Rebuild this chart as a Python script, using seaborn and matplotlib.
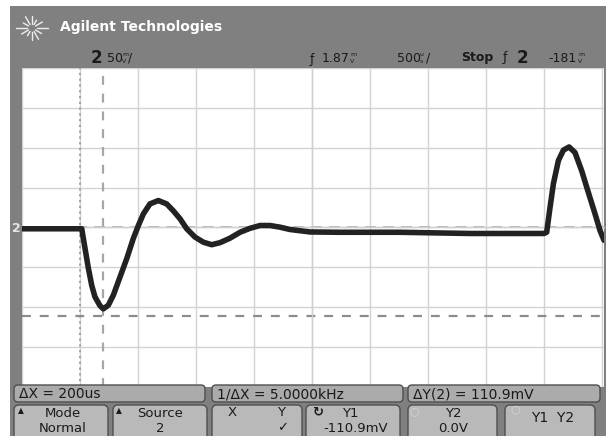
import matplotlib
matplotlib.use("Agg")
import math
import matplotlib.pyplot as plt
import seaborn as sns
import pandas as pd
from matplotlib.patches import Rectangle, FancyBboxPatch
from matplotlib.lines import Line2D
from matplotlib.transforms import Affine2D
from matplotlib.ticker import MultipleLocator

# ---------------- data ----------------
time_us = [0, 241, 515, 543, 572, 601, 629, 672, 701, 744, 787, 845, 903,
           959, 1003, 1046, 1103, 1175, 1247, 1304, 1362, 1420, 1491, 1563,
           1635, 1707, 1793, 1879, 1966, 2052, 2138, 2224, 2310, 2483, 2741,
           3259, 3862, 4500, 4523, 4552, 4581, 4624, 4667, 4716, 4767, 4825,
           4882, 4940, 4983, 5017]
volts_mv = [-1.6, -1.6, -1.6, -26, -51, -72.5, -87, -98, -102, -97.5, -85, -62, -39,
            -14, 2.5, 17, 29.6, 33.8, 29.6, 21, 11, -1.6, -12, -18.4,
            -21.6, -19, -13.4, -6, -1, 2.5, 2.5, 0.4, -2.5, -5.6, -6,
            -6, -7.5, -7.5, -5.9, 25.4, 55, 84, 97, 101, 94, 71,
            44, 17, -4, -16]

cursor_x_us = [500, 700]          # X1, X2 (delta 200us)
cursor_y_mv = [-110.9, 0.0]       # Y1, Y2
grid_t = list(range(0, 5001, 500))
grid_v = list(range(-200, 201, 50))

status_texts = ["\u0394X = 200us", "1/\u0394X = 5.0000kHz", "\u0394Y(2) = 110.9mV"]

# ---------------- figure ----------------
W, H = 606, 436
sns.set_theme(style="white")
plt.rcParams["font.family"] = ["DejaVu Sans"]
fig = plt.figure(figsize=(W / 100, H / 100), dpi=100)
fig.patch.set_facecolor("white")
T = Affine2D().scale(1, -1).translate(0, H).scale(1 / W, 1 / H) + fig.transFigure

BG = "#808080"
fig.patches.append(Rectangle((10, 6), W - 10, H - 6, transform=T,
                             facecolor=BG, edgecolor="none", zorder=0))

# ---------------- graticule / trace ----------------
ax = fig.add_axes([22 / W, 1 - 387 / H, (604 - 22) / W, (387 - 68) / H])
ax.set_zorder(1)
ax.set_facecolor("white")
ax.set_xlim(0, 5017)
ax.set_ylim(-200, 200 - 400 / 320)
ax.set_xticks(grid_t)
ax.set_yticks(grid_v)
ax.grid(True, color="#d2d2d2", lw=1.0)
ax.set_axisbelow(True)
for s in ["top", "right"]:
    ax.spines[s].set_visible(False)
ax.spines["left"].set_position(("data", 2500))
ax.spines["bottom"].set_position(("data", 0))
for s in ["left", "bottom"]:
    ax.spines[s].set_color("#cfcfcf")
    ax.spines[s].set_linewidth(1.0)
ax.xaxis.set_minor_locator(MultipleLocator(100))
ax.yaxis.set_minor_locator(MultipleLocator(10))
ax.tick_params(which="major", length=0, labelbottom=False, labelleft=False)
ax.tick_params(which="minor", length=5, direction="inout", color="#c4c4c4", width=1)

ax.axvline(cursor_x_us[0], color="#9c9c9c", lw=1.3, ls=(0, (1.2, 2.0)), zorder=2)
ax.axvline(cursor_x_us[1], color="#a6a6a6", lw=1.6, ls=(0, (4, 4)), zorder=2)
ax.axhline(cursor_y_mv[0], color="#8c8c8c", lw=1.6, ls=(0, (4, 4)), zorder=2)
ax.axhline(cursor_y_mv[1], color="#b2b2b2", lw=1.3, ls=(0, (6, 4)), zorder=2)

df = pd.DataFrame({"t": time_us, "v": volts_mv})
sns.lineplot(data=df, x="t", y="v", ax=ax, color="#222222", lw=4.0,
             sort=False, estimator=None, zorder=5)
ax.lines[-1].set_solid_joinstyle("round")
ax.lines[-1].set_solid_capstyle("round")
ax.set_xlabel("")
ax.set_ylabel("")

# ---------------- header ----------------
cx, cy = 32, 28
for ang, r0, r1 in [(0, 5, 16), (30, 4, 11), (60, 4, 13), (90, 4, 12),
                    (120, 4, 9), (150, 4, 12), (180, 5, 16), (210, 4, 10),
                    (240, 4, 13), (270, 4, 12), (300, 4, 9), (330, 4, 12)]:
    a = math.radians(ang)
    fig.lines.append(Line2D([cx + r0 * math.cos(a), cx + r1 * math.cos(a)],
                            [cy + r0 * math.sin(a), cy + r1 * math.sin(a)],
                            transform=T, color="#eeeeee", lw=1.0))
fig.text(60, 27, "Agilent Technologies", transform=T, color="white",
         fontsize=10, fontweight="bold", va="center", ha="left")

def stacked(x, y, top, bot, color="#1a1a1a"):
    fig.text(x, y - 3.2, top, transform=T, fontsize=4.5, color=color,
             ha="left", va="center")
    fig.text(x, y + 3.2, bot, transform=T, fontsize=4.5, color=color,
             ha="left", va="center")

TXT = "#1a1a1a"
fig.text(91, 58, "2", transform=T, fontsize=12, fontweight="bold", color=TXT,
         va="center", ha="left")
fig.text(107, 58, "50", transform=T, fontsize=9, color=TXT, va="center", ha="left")
stacked(122, 58, "m", "V")
fig.text(128, 58, "/", transform=T, fontsize=9, color=TXT, va="center", ha="left")

fig.text(310, 60, "\u0192", transform=T, fontsize=9, color=TXT, va="center", ha="left")
fig.text(322, 58, "1.87", transform=T, fontsize=9, color=TXT, va="center", ha="left")
stacked(350, 58, "m", "V")
fig.text(397, 58, "500", transform=T, fontsize=9, color=TXT, va="center", ha="left")
stacked(420, 58, "u", "s")
fig.text(426, 58, "/", transform=T, fontsize=9, color=TXT, va="center", ha="left")
fig.text(461, 58, "Stop", transform=T, fontsize=9, fontweight="bold", color=TXT,
         va="center", ha="left")
fig.text(503, 58, "\u0192", transform=T, fontsize=9, color=TXT, va="center", ha="left")
fig.text(517, 58, "2", transform=T, fontsize=12, fontweight="bold", color=TXT,
         va="center", ha="left")
fig.text(548, 58, "-181", transform=T, fontsize=9, color=TXT, va="center", ha="left")
stacked(578, 58, "m", "V")

# channel ground marker
fig.text(16, 228, "2", transform=T, fontsize=9, fontweight="bold", color="#e6e6e6",
         va="center", ha="center")

# ---------------- status bar ----------------
BOX = "#ababab"
EDGE = "#4f4f4f"
for (x0, x1), s in zip([(14, 205), (212, 403), (408, 600)], status_texts):
    fig.patches.append(FancyBboxPatch((x0, 385), x1 - x0, 17,
                                      boxstyle="round,pad=0,rounding_size=4",
                                      transform=T, facecolor=BOX, edgecolor=EDGE,
                                      lw=1.0, zorder=3))
    fig.text(x0 + 5, 394, s, transform=T, fontsize=10, color=TXT,
             va="center", ha="left", zorder=4)

BTN = "#b9b9b9"
buttons = [(14, 108), (113, 207), (212, 302), (306, 400), (408, 497), (505, 595)]
for x0, x1 in buttons:
    fig.patches.append(FancyBboxPatch((x0, 405), x1 - x0, 40,
                                      boxstyle="round,pad=0,rounding_size=5",
                                      transform=T, facecolor=BTN, edgecolor=EDGE,
                                      lw=1.0, zorder=3))

def btxt(x, y, s, size=9.5, ha="center", color=TXT, weight="normal"):
    fig.text(x, y, s, transform=T, fontsize=size, color=color, ha=ha, va="center",
             fontweight=weight, zorder=4)

btxt(21, 411, "\u25B2", size=5.5)
btxt(63, 413, "Mode")
btxt(63, 428, "Normal")
btxt(119, 411, "\u25B2", size=5.5)
btxt(160, 413, "Source")
btxt(160, 428, "2")
btxt(232, 412, "X")
btxt(281, 412, "Y")
btxt(283, 428, "\u2713")
btxt(318, 412, "\u21BB", weight="bold")
btxt(350, 413, "Y1")
btxt(356, 428, "-110.9mV")
btxt(414, 411, "\u25CB", size=8, color="#d6d6d6")
btxt(453, 413, "Y2")
btxt(453, 428, "0.0V")
btxt(515, 409, "\u25CB", size=8, color="#d6d6d6")
btxt(553, 418, "Y1  Y2", size=10)

fig.savefig("out.png", dpi=100)
